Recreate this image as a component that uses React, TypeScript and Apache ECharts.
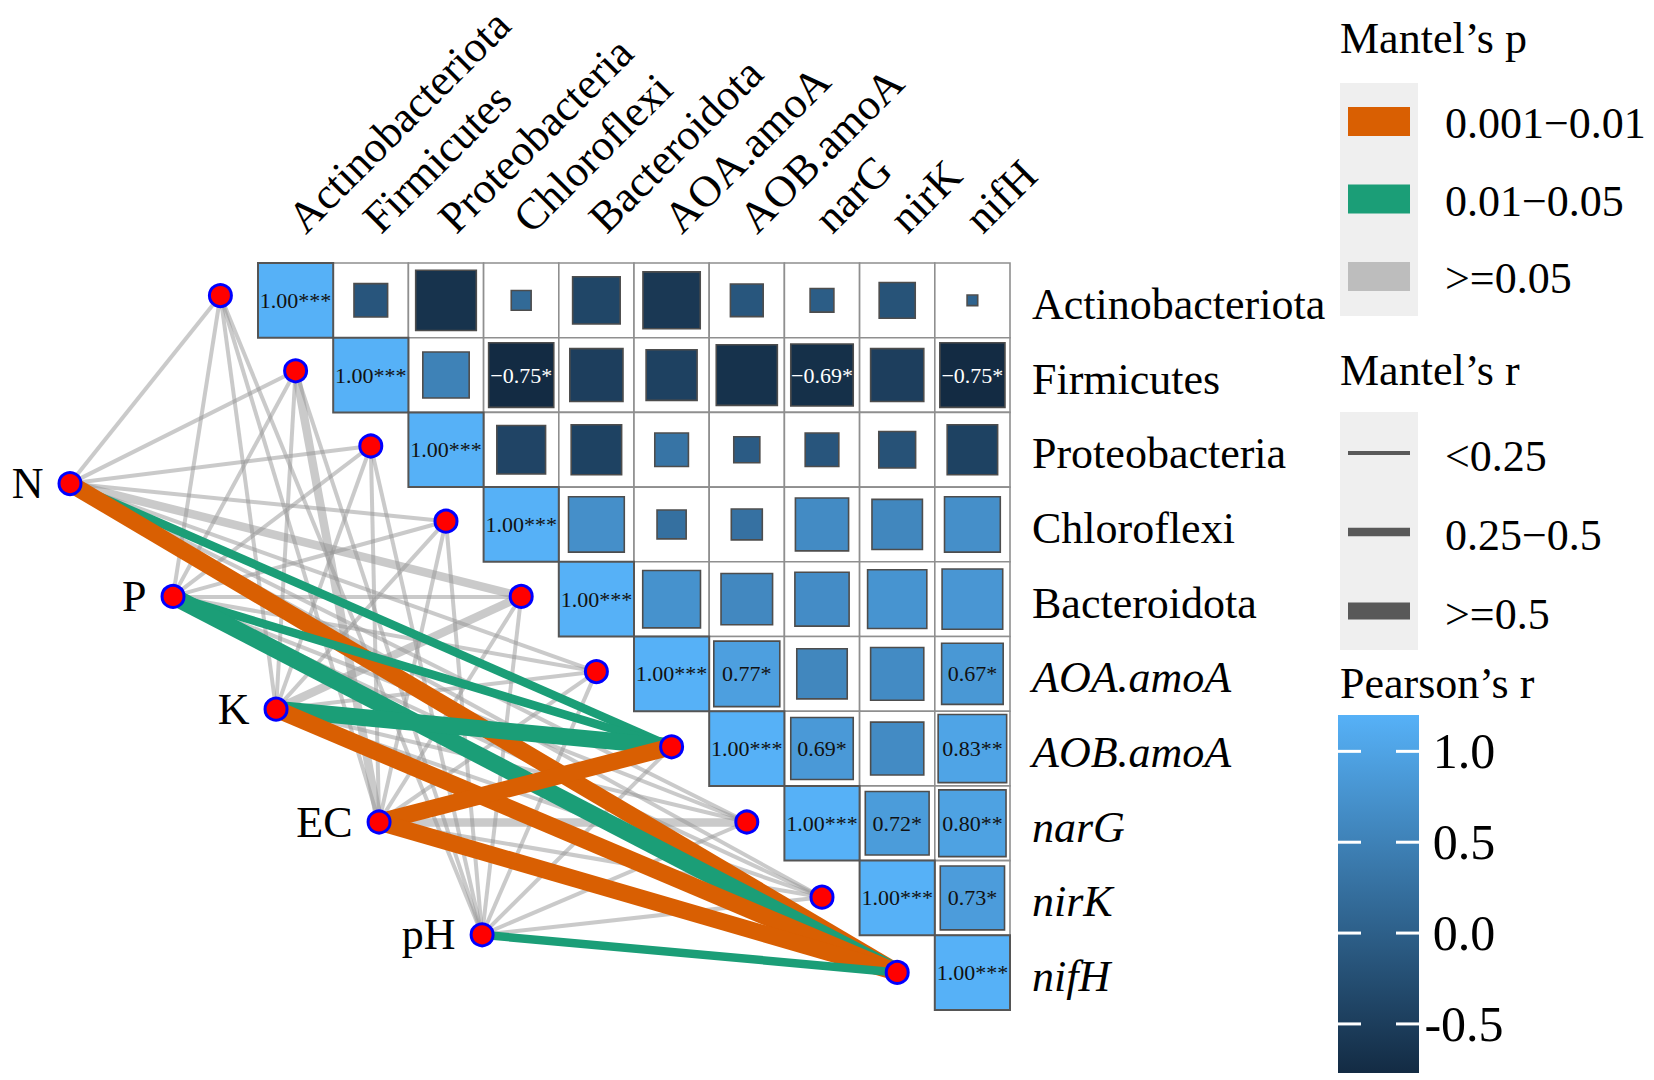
import React, { useEffect, useRef } from "react";
import * as echarts from "echarts";

// ---------------- data ----------------
const targets = [
  "Actinobacteriota", "Firmicutes", "Proteobacteria", "Chloroflexi", "Bacteroidota",
  "AOA.amoA", "AOB.amoA", "narG", "nirK", "nifH",
];
const italicTargets = [false, false, false, false, false, true, true, true, true, true];

// Pearson's r, upper triangle: row i lists columns i..9
const corrRows = [
  [1.0, -0.2, -0.65, 0.07, -0.4, -0.58, -0.19, -0.1, -0.23, -0.02],
  [1.0, 0.38, -0.75, -0.5, -0.46, -0.66, -0.69, -0.5, -0.75],
  [1.0, -0.42, -0.45, 0.2, -0.12, -0.2, -0.24, -0.45],
  [1.0, 0.55, 0.15, 0.17, 0.5, 0.45, 0.55],
  [1.0, 0.59, 0.47, 0.52, 0.62, 0.65],
  [1.0, 0.77, 0.45, 0.5, 0.67],
  [1.0, 0.69, 0.5, 0.83],
  [1.0, 0.72, 0.8],
  [1.0, 0.73],
  [1.0],
];
const sigRows = [
  ["***", "", "", "", "", "", "", "", "", ""],
  ["***", "", "*", "", "", "", "*", "", "*"],
  ["***", "", "", "", "", "", "", ""],
  ["***", "", "", "", "", "", ""],
  ["***", "", "", "", "", ""],
  ["***", "*", "", "", "*"],
  ["***", "*", "", "**"],
  ["***", "*", "**"],
  ["***", "*"],
  ["***"],
];

const envVars = ["N", "P", "K", "EC", "pH"];
const pLevels = ["0.001\u22120.01", "0.01\u22120.05", ">=0.05"];
const rLevels = ["<0.25", "0.25\u22120.5", ">=0.5"];
// Mantel's p class (index into pLevels) for env x target
const mantelPClass = [
  [2, 2, 2, 2, 2, 2, 1, 2, 2, 0],
  [2, 2, 2, 2, 2, 2, 1, 2, 2, 1],
  [2, 2, 2, 2, 2, 2, 1, 2, 2, 0],
  [2, 2, 2, 2, 2, 2, 0, 2, 2, 0],
  [2, 2, 2, 2, 2, 2, 2, 2, 2, 1],
];
// Mantel's r class (index into rLevels)
const mantelRClass = [
  [0, 0, 0, 0, 1, 0, 1, 0, 0, 2],
  [0, 0, 0, 0, 0, 0, 1, 0, 0, 2],
  [0, 0, 0, 0, 1, 0, 2, 0, 0, 2],
  [0, 1, 0, 0, 0, 0, 2, 1, 0, 2],
  [0, 0, 0, 0, 0, 0, 0, 0, 0, 1],
];
const colorbarTicks = [1.0, 0.5, 0.0, -0.5];
const colorbarTickLabels = ["1.0", "0.5", "0.0", "-0.5"];

// ---------------- styles / layout ----------------
const FONT = "'Liberation Serif', 'Times New Roman', Times, serif";
const CELL = 75.2;
const X0 = 258;
const Y0 = 258;
const pColors = ["#D95F02", "#1B9E77", "rgba(150,150,150,0.5)"];
const rWidths = [4, 8.5, 17];
const LOW = "#132B43";
const HIGH = "#56B1F7";

function formatR(v: number) {
  const s = Math.abs(v).toFixed(2);
  return (v < 0 ? "\u2212" : "") + s;
}

export default function App() {
  const ref = useRef<HTMLDivElement>(null);

  useEffect(() => {
    if (!ref.current) return;
    const chart = echarts.init(ref.current, null, { renderer: "svg" });

    // matrix cells
    const cellData: number[][] = [];
    const cellLabels: string[] = [];
    corrRows.forEach((row, i) => {
      row.forEach((v, k) => {
        const j = i + k;
        cellData.push([j, i, v]);
        const sig = sigRows[i][k];
        cellLabels.push(sig ? formatR(v) + sig : "");
      });
    });

    // node layout (in cell units)
    const targetNodes = targets.map((t, i) => [i - 0.5, i + 0.5]);
    const envNodes = envVars.map((e, k) => [-2.5 + 1.37 * k, 3 + 1.5 * k]);

    const grayLinks: any[] = [];
    const colorLinks: any[] = [];
    envVars.forEach((e, a) => {
      targets.forEach((t, b) => {
        const pc = mantelPClass[a][b];
        const rc = mantelRClass[a][b];
        const item = {
          coords: [envNodes[a], targetNodes[b]],
          lineStyle: { color: pColors[pc], width: rWidths[rc], opacity: 1 },
        };
        if (pc === 2) grayLinks.push(item);
        else colorLinks.push(item);
      });
    });

    const labelStyle = { fontFamily: FONT, fontSize: 44, color: "#000" };

    // legends
    const graphics: any[] = [];
    const LX = 1340;
    graphics.push({ type: "text", left: LX, top: 16, style: { text: "Mantel\u2019s p", font: `44px ${FONT}`, fill: "#000" } });
    graphics.push({ type: "rect", shape: { x: LX, y: 83, width: 78, height: 233 }, style: { fill: "#EFEFEF" } });
    pLevels.forEach((lab, i) => {
      const cy = 121.5 + i * 77.5;
      graphics.push({
        type: "rect",
        shape: { x: LX + 8, y: cy - 14.5, width: 62, height: 29 },
        style: { fill: i === 2 ? "#BDBDBD" : pColors[i] },
      });
      graphics.push({
        type: "text",
        x: 1445,
        y: cy + 2,
        style: { text: lab, font: `44px ${FONT}`, fill: "#000", align: "left", verticalAlign: "middle" },
      });
    });

    graphics.push({ type: "text", left: LX, top: 348, style: { text: "Mantel\u2019s r", font: `44px ${FONT}`, fill: "#000" } });
    graphics.push({ type: "rect", shape: { x: LX, y: 412, width: 78, height: 238 }, style: { fill: "#EFEFEF" } });
    rLevels.forEach((lab, i) => {
      const cy = 453 + i * 79;
      graphics.push({
        type: "line",
        shape: { x1: LX + 8, y1: cy, x2: LX + 70, y2: cy },
        style: { stroke: "#595959", lineWidth: rWidths[i] },
      });
      graphics.push({
        type: "text",
        x: 1445,
        y: cy + 3,
        style: { text: lab, font: `44px ${FONT}`, fill: "#000", align: "left", verticalAlign: "middle" },
      });
    });

    graphics.push({ type: "text", left: LX, top: 661, style: { text: "Pearson\u2019s r", font: `44px ${FONT}`, fill: "#000" } });
    const cbTop = 715, cbBot = 1073, cbMax = 1.2, cbMin = -0.77;
    graphics.push({
      type: "rect",
      shape: { x: 1338, y: cbTop, width: 81, height: cbBot - cbTop },
      style: {
        fill: {
          type: "linear", x: 0, y: 0, x2: 0, y2: 1,
          colorStops: [{ offset: 0, color: HIGH }, { offset: 1, color: LOW }],
        },
      },
    });
    colorbarTicks.forEach((v, i) => {
      const y = cbTop + ((cbMax - v) / (cbMax - cbMin)) * (cbBot - cbTop);
      graphics.push({ type: "line", shape: { x1: 1338, y1: y, x2: 1361, y2: y }, style: { stroke: "#fff", lineWidth: 3 } });
      graphics.push({ type: "line", shape: { x1: 1396, y1: y, x2: 1419, y2: y }, style: { stroke: "#fff", lineWidth: 3 } });
      graphics.push({
        type: "text",
        x: 1464,
        y: y,
        style: { text: colorbarTickLabels[i], font: `50px ${FONT}`, fill: "#000", align: "center", verticalAlign: "middle" },
      });
    });

    const option: any = {
      animation: false,
      backgroundColor: "#fff",
      grid: [
        { left: X0 - 3 * CELL, top: Y0, width: 13 * CELL, height: 10 * CELL },
        { left: X0, top: Y0, width: 10 * CELL, height: 10 * CELL },
      ],
      xAxis: [
        { type: "value", gridIndex: 0, min: -3, max: 10, show: false },
        {
          type: "category", gridIndex: 1, data: targets, position: "top",
          axisLine: { show: false }, axisTick: { show: false }, splitLine: { show: false },
          axisLabel: { ...labelStyle, rotate: -45, margin: 38, interval: 0 },
        },
      ],
      yAxis: [
        { type: "value", gridIndex: 0, min: 0, max: 10, inverse: true, show: false },
        {
          type: "category", gridIndex: 1, data: targets, position: "right", inverse: true,
          axisLine: { show: false }, axisTick: { show: false }, splitLine: { show: false },
          axisLabel: {
            ...labelStyle, margin: 22, interval: 0,
            formatter: (v: string) => {
              const idx = targets.indexOf(v);
              return italicTargets[idx] ? `{it|${v}}` : `{n|${v}}`;
            },
            rich: {
              it: { fontFamily: FONT, fontSize: 44, fontStyle: "italic", color: "#000", padding: [8, 0, 0, 0] },
              n: { fontFamily: FONT, fontSize: 44, color: "#000", padding: [8, 0, 0, 0] },
            },
          },
        },
      ],
      visualMap: {
        type: "continuous", show: false, min: -0.75, max: 1, dimension: 2, seriesIndex: 3,
        inRange: { color: [LOW, HIGH] },
      },
      series: [
        {
          type: "lines", coordinateSystem: "cartesian2d", xAxisIndex: 0, yAxisIndex: 0,
          z: 2, silent: true, lineStyle: { opacity: 1, curveness: 0 }, data: grayLinks,
        },
        {
          type: "lines", coordinateSystem: "cartesian2d", xAxisIndex: 0, yAxisIndex: 0,
          z: 3, silent: true, lineStyle: { opacity: 1, curveness: 0 }, data: colorLinks,
        },
        {
          type: "scatter", xAxisIndex: 0, yAxisIndex: 0, z: 6, symbolSize: 22,
          itemStyle: { color: "#FF0000", borderColor: "#0000FF", borderWidth: 3, opacity: 1 },
          data: [
            ...targetNodes.map((p, i) => ({ name: targets[i], value: p, label: { show: false } })),
            ...envNodes.map((p, k) => ({
              name: envVars[k], value: p,
              label: { show: true, position: "left", distance: 14, formatter: "{b}", ...labelStyle },
            })),
          ],
        },
        {
          type: "custom", xAxisIndex: 1, yAxisIndex: 1, z: 4, data: cellData,
          renderItem: (params: any, api: any) => {
            const col = api.value(0);
            const row = api.value(1);
            const r = api.value(2);
            const c = api.coord([col, row]);
            const sz = api.size([1, 1]);
            const cw = Math.abs(sz[0]);
            const ch = Math.abs(sz[1]);
            const color = api.visual("color");
            const diag = col === row;
            const children: any[] = [];
            children.push({
              type: "rect",
              shape: { x: c[0] - cw / 2, y: c[1] - ch / 2, width: cw, height: ch },
              style: { fill: diag ? color : "#fff", stroke: diag ? "#555" : "#8f8f8f", lineWidth: diag ? 2 : 1.6 },
              z2: diag ? 2 : 1,
            });
            if (!diag) {
              const s = Math.sqrt(Math.abs(r));
              children.push({
                type: "rect",
                shape: { x: c[0] - (cw * s) / 2, y: c[1] - (ch * s) / 2, width: cw * s, height: ch * s },
                style: { fill: color, stroke: "#4d4d4d", lineWidth: 1.6 },
                z2: 3,
              });
            }
            const lab = cellLabels[params.dataIndex];
            if (lab) {
              children.push({
                type: "text",
                z2: 4,
                style: {
                  text: lab, x: c[0], y: c[1], align: "center", verticalAlign: "middle",
                  font: `22px ${FONT}`, fill: r < 0 ? "#fff" : "#111",
                },
              });
            }
            return { type: "group", children };
          },
        },
      ],
      graphic: graphics,
    };

    chart.setOption(option);
    return () => chart.dispose();
  }, []);

  return (
    <div
      ref={ref}
      style={{ position: "fixed", left: 0, top: 0, width: 1654, height: 1080, background: "#fff" }}
    />
  );
}
